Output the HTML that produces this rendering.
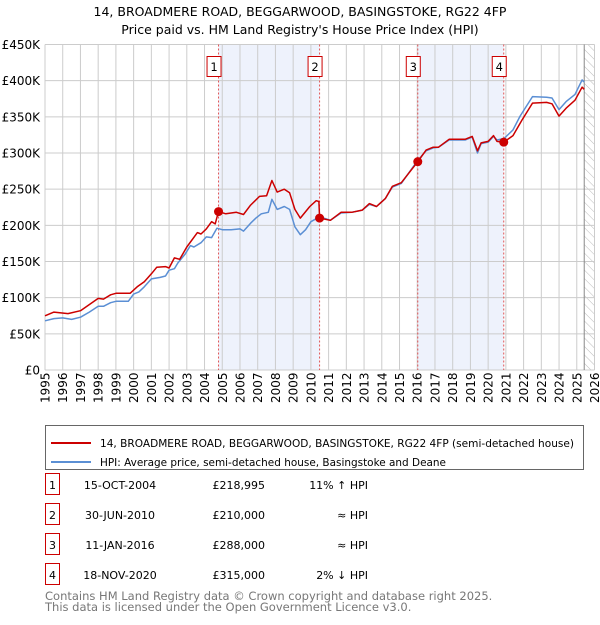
<!DOCTYPE html>
<html><head><meta charset="utf-8">
<style>
body{margin:0;background:#fff;font-family:"Liberation Sans","DejaVu Sans",sans-serif;}
svg text{font-family:"DejaVu Sans","Liberation Sans",sans-serif;}
</style></head>
<body>
<svg id="chart" width="600" height="620" xmlns="http://www.w3.org/2000/svg">
<text x="300" y="16" text-anchor="middle" font-size="12.5">14, BROADMERE ROAD, BEGGARWOOD, BASINGSTOKE, RG22 4FP</text>
<text x="300" y="34" text-anchor="middle" font-size="12.5">Price paid vs. HM Land Registry's House Price Index (HPI)</text>
<g id="plot"></g>
<g>
<rect x="45.5" y="425.5" width="538" height="44" fill="#fff" stroke="#666"/>
<line x1="51" y1="443" x2="91" y2="443" stroke="#cc0000" stroke-width="2"/>
<text x="100" y="447" font-size="10.6" textLength="474" lengthAdjust="spacingAndGlyphs">14, BROADMERE ROAD, BEGGARWOOD, BASINGSTOKE, RG22 4FP (semi-detached house)</text>
<line x1="51" y1="462" x2="91" y2="462" stroke="#5b8fd4" stroke-width="2"/>
<text x="100" y="466" font-size="10.6" textLength="346" lengthAdjust="spacingAndGlyphs">HPI: Average price, semi-detached house, Basingstoke and Deane</text>
</g>
<g id="table" font-size="11"></g>
<text x="45" y="600" font-size="11.5" fill="#777">Contains HM Land Registry data © Crown copyright and database right 2025.</text>
<text x="45" y="611" font-size="11.5" fill="#777">This data is licensed under the Open Government Licence v3.0.</text>
</svg>
<script>
const hpiYears=[1995,1995.5,1996,1996.5,1997,1997.5,1998,1998.3,1998.7,1999,1999.7,2000,2000.3,2000.6,2001,2001.5,2001.8,2002,2002.3,2002.5,2002.9,2003.2,2003.4,2003.8,2004.1,2004.4,2004.7,2005,2005.5,2006,2006.2,2006.6,2006.9,2007.2,2007.6,2007.8,2008.1,2008.5,2008.8,2009.1,2009.4,2009.7,2010,2010.5,2011.1,2011.7,2012.3,2012.9,2013.3,2013.7,2014.2,2014.6,2015.1,2016,2016.5,2016.9,2017.2,2017.8,2018.7,2019.1,2019.4,2019.6,2020,2020.3,2020.5,2020.9,2021.4,2021.8,2022.5,2023.3,2023.6,2024,2024.4,2024.9,2025.3,2025.42];
const hpiValues=[68,71,72,70,73,80,88,88,93,95,95,105,108,115,126,128,130,138,140,148,160,172,170,176,184,183,196,194,194,195,192,203,210,216,218,236,222,226,222,198,187,194,205,212,207,217,218,221,229,226,237,253,258,289,303,307,308,318,318,322,300,313,315,323,318,320,332,351,378,377,376,360,371,381,401,398];
const priceYears=[1995,1995.5,1996.3,1997,1998,1998.3,1998.7,1999,1999.8,2000.2,2000.6,2001,2001.3,2001.8,2002,2002.3,2002.6,2003,2003.6,2003.8,2004.1,2004.4,2004.6,2004.79,2005.2,2005.8,2006.2,2006.6,2007.1,2007.5,2007.8,2008.1,2008.5,2008.8,2009.1,2009.4,2009.94,2010.3,2010.45,2010.49,2011.1,2011.7,2012.3,2012.9,2013.3,2013.7,2014.2,2014.6,2015.1,2016.03,2016.5,2016.9,2017.2,2017.8,2018.7,2019.1,2019.4,2019.6,2020,2020.3,2020.5,2020.88,2021.4,2021.9,2022.5,2023.3,2023.6,2024,2024.4,2024.9,2025.3,2025.42];
const priceValues=[75,80,78,82,99,98,104,106,106,115,122,133,142,143,141,155,153,170,190,188,195,205,202,219,216,218,215,228,240,241,262,246,250,245,222,210,226,234,233,210,207,218,218,221,230,226,237,254,259,288,304,308,308,319,319,323,303,314,316,324,316,315,324,345,369,370,368,351,362,373,391,388];
const saleYears=[2004.79,2010.49,2016.03,2020.88];
const saleValues=[218995,210000,288000,315000];
const saleLabels=["1","2","3","4"];
const saleDates=["15-OCT-2004","30-JUN-2010","11-JAN-2016","18-NOV-2020"];
const salePrices=["£218,995","£210,000","£288,000","£315,000"];
const saleHpi=["11% ↑ HPI","≈ HPI","≈ HPI","2% ↓ HPI"];
const yTicks=[0,50,100,150,200,250,300,350,400,450];
const yTickLabels=["£0","£50K","£100K","£150K","£200K","£250K","£300K","£350K","£400K","£450K"];
const xTicks=[];for(let y=1995;y<=2026;y++)xTicks.push(y);

const L=45,R=594.5,T=44.5,B=370;
const xs=y=>L+(y-1995)*(R-L)/31;
const ys=v=>B-v*(B-T)/450;
const NS="http://www.w3.org/2000/svg";
const plot=document.getElementById('plot');
function mk(tag,attrs,parent){const e=document.createElementNS(NS,tag);for(const k in attrs)e.setAttribute(k,attrs[k]);(parent||plot).appendChild(e);return e;}
for(let i=0;i<saleYears.length;i+=2){
 const r=mk('rect',{x:xs(saleYears[i]),y:T,width:xs(saleYears[i+1])-xs(saleYears[i]),height:B-T,fill:'#eef2fc'});
 
 
}
const defs=mk('defs',{});
const pat=mk('pattern',{id:'hatch',width:6,height:6,patternUnits:'userSpaceOnUse',patternTransform:'rotate(-45)'},defs);
mk('line',{x1:0,y1:0,x2:0,y2:6,stroke:'#bbb','stroke-width':1},pat);
const hx=xs(2025.42);
const hr=mk('rect',{x:hx,y:T,width:R-hx,height:B-T,fill:'url(#hatch)'});


xTicks.forEach((y,i)=>{
 const g=mk('line',{x1:xs(y),y1:T,x2:xs(y),y2:B,stroke:'#ccc','stroke-width':1});
 
 
 const t=mk('text',{x:0,y:0,transform:`translate(${xs(y)+4.5},${B+33}) rotate(-90)`,'font-size':12});
 t.textContent=y;
 
 
});
yTicks.forEach((v,i)=>{
 const g=mk('line',{x1:L,y1:ys(v),x2:R,y2:ys(v),stroke:'#ccc','stroke-width':1});
 
 
 const t=mk('text',{x:40,y:ys(v)+4.5,'text-anchor':'end','font-size':12});
 t.textContent=yTickLabels[i];
 
 
});
mk('line',{x1:hx,y1:T,x2:hx,y2:B,stroke:'#888','stroke-width':1});
saleYears.forEach((y,i)=>{
 const l=mk('line',{x1:xs(y),y1:T,x2:xs(y),y2:B,stroke:'#e05555','stroke-width':1,'stroke-dasharray':'2,2'});
 
 
 const bx=mk('rect',{x:xs(y)-11.5,y:56.5,width:14,height:20,fill:'#fff',stroke:'#cc0000'});
 
 
 const t=mk('text',{x:xs(y)-4.5,y:71,'text-anchor':'middle','font-size':11.5});
 t.textContent=saleLabels[i];
 
 
});
function path(xa,va,color,name){
 const d=xa.map((y,i)=>(i?'L':'M')+xs(y).toFixed(1)+','+ys(va[i]).toFixed(1)).join('');
 const p=mk('path',{d:d,fill:'none',stroke:color,'stroke-width':1.5,'stroke-linejoin':'round'});
 
 
}
path(hpiYears,hpiValues,'#5b8fd4','hpi-line');
path(priceYears,priceValues,'#cc0000','price-paid-line');
saleYears.forEach((y,i)=>{
 const c=mk('circle',{cx:xs(y),cy:ys(saleValues[i]/1000),r:4.5,fill:'#cc0000'});
 
 
});
const tb=document.getElementById('table');
const rowY=[485,515,545,575];
saleLabels.forEach((s,i)=>{
 const y=rowY[i];
 const b=mk('rect',{x:45.5,y:y-11.5,width:14,height:21,fill:'#fff',stroke:'#cc0000'},tb);
 
 
 const cells=[[52.5,'middle',s],[120,'middle',saleDates[i]],[265,'end',salePrices[i]],[368,'end',saleHpi[i]]];
 cells.forEach(c=>{
  const t=mk('text',{x:c[0],y:y+4,'text-anchor':c[1]},tb);
  t.textContent=c[2];
  
  
 });
});
</script>
</body></html>
